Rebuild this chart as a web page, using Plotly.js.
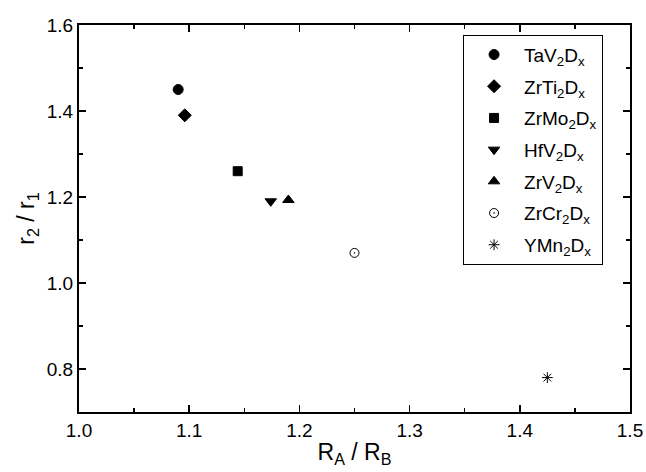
<!DOCTYPE html>
<html><head><meta charset="utf-8">
<script src="https://cdn.plot.ly/plotly-3.0.1.min.js"></script>
<style>html,body{margin:0;padding:0;background:#fff}#chart{width:646px;height:472px}</style>
</head><body><div id="chart"></div>
<script>
const names = ["TaV<sub>2</sub>D<sub>x</sub>","ZrTi<sub>2</sub>D<sub>x</sub>","ZrMo<sub>2</sub>D<sub>x</sub>","HfV<sub>2</sub>D<sub>x</sub>","ZrV<sub>2</sub>D<sub>x</sub>","ZrCr<sub>2</sub>D<sub>x</sub>","YMn<sub>2</sub>D<sub>x</sub>"];
const ratioRA_RB = [1.090, 1.096, 1.144, 1.174, 1.190, 1.250, 1.425];
const ratio_r2_r1 = [1.45, 1.39, 1.26, 1.19, 1.193, 1.07, 0.78];
const symbols = ["circle","diamond","square","triangle-down","triangle-up","circle-open-dot","asterisk-open"];
const sizes = [10, 10, 9, 10, 10, 9, 9];

const traces = names.map((n,i)=>({
  type:'scatter', mode:'markers', name:n, legendgroup:'g'+i,
  x:[ratioRA_RB[i]], y:[ratio_r2_r1[i]],
  marker:{symbol:symbols[i], size:sizes[i], color:'#000', line:{color:'#000', width:1}}
}));

const axisCommon = {
  showline:true, linecolor:'#000', linewidth:2, mirror:'allticks',
  ticks:'inside', ticklen:7, tickwidth:1.5, tickcolor:'#000',
  showgrid:false, zeroline:false,
  tickfont:{family:'Liberation Sans, Arial', size:19, color:'#000'}
};

const layout = {
  width:646, height:472,
  margin:{l:79, r:16, t:25, b:60},
  paper_bgcolor:'#fff', plot_bgcolor:'#fff',
  font:{family:'Liberation Sans, Arial', color:'#000'},
  showlegend:true,
  xaxis:Object.assign({}, axisCommon, {
    range:[1.0,1.5], tickvals:[1.0,1.1,1.2,1.3,1.4,1.5], ticktext:['1.0','1.1','1.2','1.3','1.4','1.5'],
    minor:{tickvals:[1.05,1.15,1.25,1.35,1.45], ticks:'inside', ticklen:4, tickwidth:1.5, tickcolor:'#000'},
    title:{text:'R<sub>A</sub> / R<sub>B</sub>', font:{size:23, color:'#000'}, standoff:4}
  }),
  yaxis:Object.assign({}, axisCommon, {
    range:[0.7,1.6], tickvals:[0.8,1.0,1.2,1.4,1.6], ticktext:['0.8','1.0','1.2','1.4','1.6'],
    minor:{tickvals:[0.7,0.9,1.1,1.3,1.5], ticks:'inside', ticklen:4, tickwidth:1.5, tickcolor:'#000'},
    title:{text:'r<sub>2</sub> / r<sub>1</sub>', font:{size:23, color:'#000'}, standoff:6}
  }),
  legend:{
    x:0.697, y:0.975, xanchor:'left', yanchor:'top',
    bordercolor:'#000', borderwidth:1, bgcolor:'#fff',
    font:{size:19, color:'#000', family:'Liberation Sans, Arial'},
    tracegroupgap:4, itemwidth:50, entrywidth:150
  }
};

Plotly.newPlot('chart', traces, layout, {displayModeBar:false, staticPlot:true});
</script></body></html>
